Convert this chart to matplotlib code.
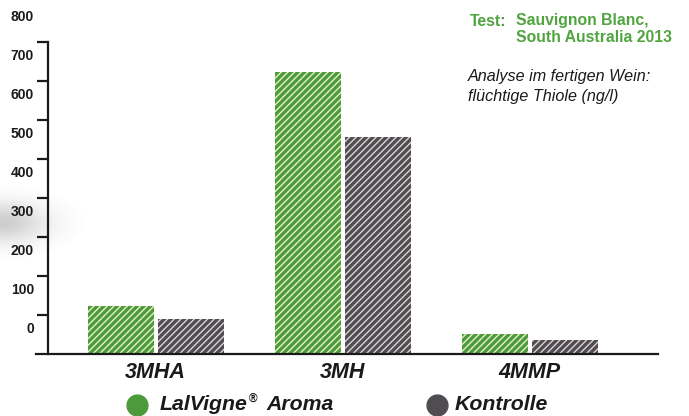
import numpy as np
import matplotlib
matplotlib.use("Agg")
import matplotlib.pyplot as plt
from matplotlib.lines import Line2D

# ---- data ----
categories = ["3MHA", "3MH", "4MMP"]
lalvigne = [123, 722, 51]
kontrolle = [88, 555, 34]
ytick_values = [100, 200, 300, 400, 500, 600, 700, 800]
ylabel_texts = ["0", "100", "200", "300", "400", "500", "600", "700", "800"]
legend_labels = ["LalVigne", "Aroma", "Kontrolle"]

plt.rcParams["font.family"] = ["Liberation Sans", "DejaVu Sans"]
plt.rcParams["hatch.linewidth"] = 1.0

W, H = 689, 416
fig = plt.figure(figsize=(W / 100, H / 100), dpi=100)

# background shadow blob on the left (transparent RGBA)
bg = fig.add_axes([0, 0, 1, 1], zorder=-5)
bg.set_axis_off()
yy, xx = np.mgrid[0:H, 0:W]
blob = np.exp(-(((xx - 0) / 45.0) ** 2 + ((yy - 222) / 20.0) ** 2)) * 0.3
blob[blob < 0.01] = 0
img = np.zeros((H, W, 4))
img[..., :3] = 0.35
img[..., 3] = blob
bg.imshow(img, extent=[0, W, H, 0], aspect="auto", interpolation="nearest")
bg.set_xlim(0, W)
bg.set_ylim(H, 0)

def fx(px):
    return px / W

def fy(py):
    return 1 - py / H

left_px, right_px, bottom_px, top_px = 36, 658, 353.5, 2.5
ax = fig.add_axes([fx(left_px), fy(bottom_px), (right_px - left_px) / W, (bottom_px - top_px) / H])
ax.patch.set_alpha(0)

unit = 187.0
x = np.arange(len(categories))
xmin = -(155.5 - left_px) / unit
xmax = 2 + (right_px - 529.5) / unit
ax.set_xlim(xmin, xmax)
ax.set_ylim(0, 900)

bw = 66 / unit
off = 35 / unit
green, green_l = "#4c9a3c", "#e6f0c4"
grey, grey_l = "#4f4c52", "#ddd3d3"
ax.bar(x - off, lalvigne, bw, color=green, edgecolor=green_l, linewidth=0, hatch="/////", zorder=2)
ax.bar(x + off, kontrolle, bw, color=grey, edgecolor=grey_l, linewidth=0, hatch="/////", zorder=2)

for s in ["top", "right"]:
    ax.spines[s].set_visible(False)
ax.spines["left"].set_bounds(0, 800)
ax.spines["left"].set_position(("data", xmin + 12 / unit))
ax.spines["left"].set_linewidth(1.6)
ax.spines["bottom"].set_linewidth(1.6)
ax.spines["left"].set_color("#1a1a1a")
ax.spines["bottom"].set_color("#1a1a1a")

ax.set_yticks(ytick_values)
ax.set_yticklabels([])
ax.tick_params(axis="y", which="major", length=8, width=1.6, color="#1a1a1a")
ax.set_yticks([v + 67 for v in [0, 100, 200, 300, 400, 500, 600, 700, 800]], minor=True)
ax.set_yticklabels(ylabel_texts, minor=True)
ax.tick_params(axis="y", which="minor", length=0, pad=10, labelsize=10, labelcolor="#1a1a1a")
for t in ax.get_yticklabels(minor=True):
    t.set_fontweight("bold")

ax.set_xticks(x)
ax.set_xticklabels(categories)
ax.tick_params(axis="x", length=0, pad=6, labelsize=15.5, labelcolor="#1a1a1a")
for t in ax.get_xticklabels():
    t.set_fontweight("bold")
    t.set_fontstyle("italic")

# top-right annotation
tg = "#4fa43f"
fs1 = 11.3
fig.text(fx(470), fy(21), "Test:", color=tg, fontsize=fs1, fontweight="bold", va="center", ha="left")
fig.text(fx(516), fy(21), "Sauvignon Blanc,", color=tg, fontsize=fs1, fontweight="bold", va="center", ha="left")
fig.text(fx(516), fy(38), "South Australia 2013", color=tg, fontsize=fs1, fontweight="bold", va="center", ha="left")
fs2 = 11.6
fig.text(fx(468), fy(76), "Analyse im fertigen Wein:", color="#1a1a1a", fontsize=fs2, fontstyle="italic", va="center", ha="left")
fig.text(fx(468), fy(97), "flüchtige Thiole (ng/l)", color="#1a1a1a", fontsize=fs2, fontstyle="italic", va="center", ha="left")

# legend
ly = 405
fig.add_artist(Line2D([fx(137)], [fy(ly)], marker="o", markersize=15, color="#4c9a3c", linestyle="none"))
fig.add_artist(Line2D([fx(437)], [fy(ly)], marker="o", markersize=15, color="#4f4c52", linestyle="none"))
lkw = dict(fontsize=15.3, fontweight="bold", fontstyle="italic", color="#1a1a1a", va="center", ha="left")
t1 = fig.text(fx(160), fy(ly), legend_labels[0], **lkw)
fig.canvas.draw()
r = fig.canvas.get_renderer()
e1 = t1.get_window_extent(r)
fig.text((e1.x1 + 1) / W, fy(ly - 6), "®", fontsize=8.5, fontweight="bold", color="#1a1a1a", va="center", ha="left")
fig.text(fx(266), fy(ly), legend_labels[1], **lkw)
fig.text(fx(455), fy(ly), legend_labels[2], **lkw)

fig.savefig("out.png", dpi=100)
